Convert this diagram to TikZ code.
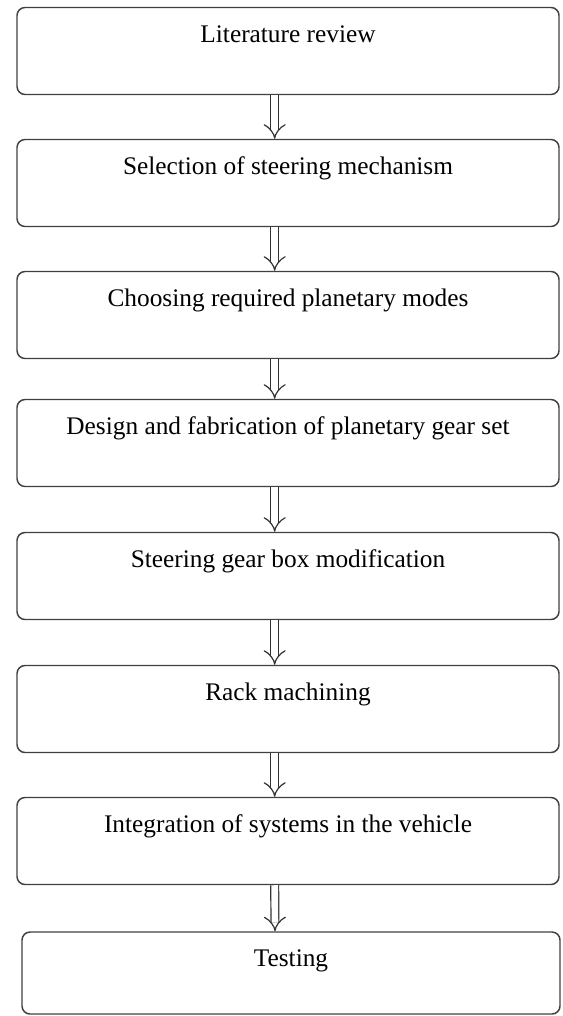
\documentclass[tikz,border=0pt]{standalone}
\usepackage{fontspec}
\setmainfont{Liberation Serif}
\usetikzlibrary{arrows.meta}

\begin{document}
\begin{tikzpicture}[
    x=0.75pt,y=-0.75pt,
    stage/.style={draw=black!75,line width=1.1pt,rounded corners=6pt,
        minimum width=542*0.75pt,minimum height=87*0.75pt,
        inner xsep=4pt,inner ysep=0pt,
        text height=26pt,text depth=39.25pt,font=\fontsize{19}{22}\selectfont},
    flow/.style={draw=black!80,double,double distance=5pt,line width=0.9pt,
        -{Implies[length=5pt,width=10pt]}},
    ]
    \useasboundingbox (0,0) rectangle (563,1016);
    % Stages
    \node[stage] (lit)    at (288,51)  {Literature review};
    \node[stage] (sel)    at (288,183) {Selection of steering mechanism};
    \node[stage] (modes)  at (288,315) {Choosing required planetary modes};
    \node[stage] (design) at (288,443) {Design and fabrication of planetary gear set};
    \node[stage] (box)    at (288,576) {Steering gear box modification};
    \node[stage] (rack)   at (288,709) {Rack machining};
    \node[stage] (integ)  at (288,841) {Integration of systems in the vehicle};
    \node[stage,minimum width=538*0.75pt,minimum height=82*0.75pt,
        text depth=35.5pt] (test) at (291,973) {Testing};

    % Flow arrows
    \draw[flow] ([xshift=-10pt]lit.south)    -- ([xshift=-10pt]sel.north);
    \draw[flow] ([xshift=-10pt]sel.south)    -- ([xshift=-10pt]modes.north);
    \draw[flow] ([xshift=-10pt]modes.south)  -- ([xshift=-10pt]design.north);
    \draw[flow] ([xshift=-10pt]design.south) -- ([xshift=-10pt]box.north);
    \draw[flow] ([xshift=-10pt]box.south)    -- ([xshift=-10pt]rack.north);
    \draw[flow] ([xshift=-10pt]rack.south)   -- ([xshift=-10pt]integ.north);
    \draw[flow] ([xshift=-10pt]integ.south)  -- ([xshift=-12pt]test.north);
\end{tikzpicture}
\end{document}
